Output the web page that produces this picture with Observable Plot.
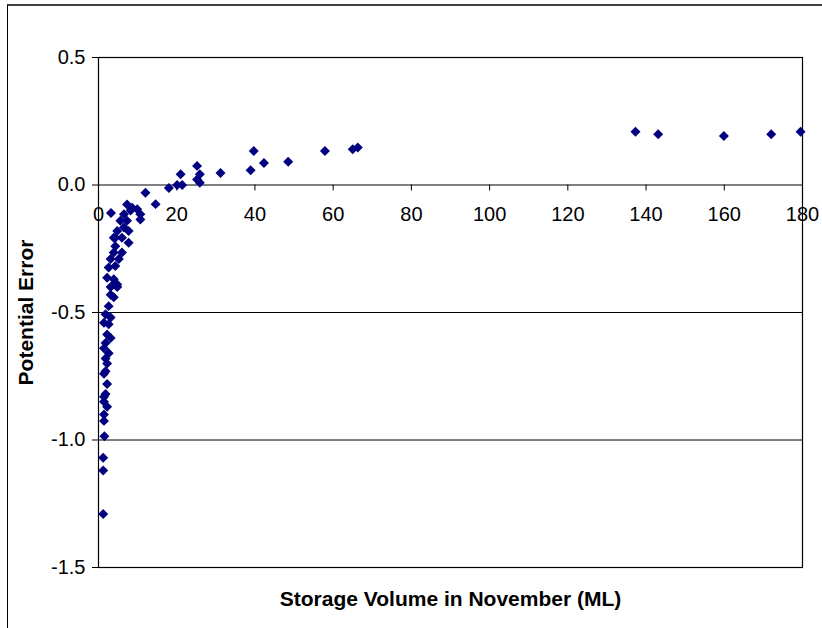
<!DOCTYPE html>
<html>
<head>
<meta charset="utf-8">
<script src="https://cdn.jsdelivr.net/npm/d3@7"></script>
<script src="https://cdn.jsdelivr.net/npm/@observablehq/plot@0.6"></script>
<style>
  html, body { margin: 0; padding: 0; background: #fff; overflow: hidden; }
  #frame { position: absolute; left: 7px; top: 4px; width: 900px; height: 700px;
           border-top: 2px solid #404040; border-left: 1.5px solid #000; }
  #chart { position: absolute; left: 0; top: 0; }
</style>
</head>
<body>
<div id="frame"></div>
<div id="chart"></div>
<script>
// Storage volume in November (ML)
const storageVolume = [
  1.2, 1.2, 1.2, 1.5, 1.4, 1.4, 2.2, 1.4, 1.8,
  1.4, 2.2, 1.4, 1.8, 2.2, 1.8, 2.6, 1.4, 1.8, 3.1, 2.2, 2.6, 1.4, 3.1, 1.8, 2.6, 3.9, 3.1, 4.8, 3.9,
  3.1, 2.2, 3.9, 4.8, 4.3, 2.6, 3.1, 5.2, 4.3, 3.9, 6.0, 3.9, 4.3, 7.7, 6.0, 4.8, 7.7, 6.5, 5.6, 7.3,
  6.5, 8.2, 10.7, 10.7, 9.9, 8.6, 7.3, 3.2,
  12.0, 14.6, 18.0, 20.1, 21.0, 21.4, 25.2, 25.9, 25.2, 25.9, 31.2, 38.9, 39.7, 42.3, 48.5, 57.9,
  65.0, 66.3, 137.3, 143.1, 159.9, 172.0, 179.5
];
// Potential error
const potentialError = [
  -1.29, -1.12, -1.07, -0.985, -0.925, -0.90, -0.87, -0.85, -0.82,
  -0.83, -0.78, -0.74, -0.73, -0.70, -0.68, -0.66, -0.64, -0.62, -0.60, -0.586, -0.546, -0.54, -0.52, -0.507, -0.475, -0.44, -0.43, -0.40, -0.39,
  -0.40, -0.364, -0.37, -0.39, -0.318, -0.324, -0.29, -0.29, -0.24, -0.265, -0.265, -0.207, -0.207, -0.226, -0.207, -0.18, -0.18, -0.167, -0.14, -0.14,
  -0.115, -0.10, -0.115, -0.135, -0.095, -0.089, -0.076, -0.11,
  -0.03, -0.075, -0.012, 0.0, 0.042, 0.0, 0.075, 0.042, 0.022, 0.009, 0.047, 0.058, 0.133, 0.086, 0.091, 0.133,
  0.14, 0.147, 0.209, 0.199, 0.192, 0.199, 0.209
];
const xTicks = [0, 20, 40, 60, 80, 100, 120, 140, 160, 180];
const yTicks = [-1.5, -1.0, -0.5, 0.0, 0.5];
const yGrid = [-1.0, -0.5];
const xTitle = "Storage Volume in November (ML)";
const yTitle = "Potential Error";

const data = storageVolume.map((v, i) => ({x: v, y: potentialError[i]}));

const chart = Plot.plot({
  width: 822,
  height: 628,
  marginLeft: 98,
  marginRight: 20,
  marginTop: 57,
  marginBottom: 61,
  style: {fontFamily: "'Liberation Sans', Arial, sans-serif", background: "transparent", overflow: "visible"},
  x: {domain: [0, 180], axis: null},
  y: {domain: [-1.5, 0.5], axis: null},
  marks: [
    Plot.ruleY(yGrid, {stroke: "#000", strokeWidth: 1}),
    Plot.frame({stroke: "#000", strokeWidth: 1.2}),
    Plot.axisY({ticks: yTicks, tickSize: 6, tickPadding: 7, tickFormat: d => d.toFixed(1),
                fontSize: 20, label: null, stroke: "#000"}),
    Plot.ruleY([0], {stroke: "#000", strokeWidth: 1}),
    Plot.ruleX(xTicks, {x: d => d, y1: 0, y2: 0, insetTop: 6, stroke: "#000"}),
    Plot.text(xTicks, {x: d => d, y: 0, text: d => String(d), dy: 30, fontSize: 20, fill: "#000"}),
    Plot.dot(data, {x: "x", y: "y", symbol: "diamond2", r: 4.5, fill: "#000080", stroke: "none"}),
    Plot.text([xTitle], {frameAnchor: "bottom", dy: 38, text: d => d, fontSize: 21, fontWeight: "bold", fill: "#000"}),
    Plot.text([yTitle], {frameAnchor: "left", dx: -72, rotate: -90, textAnchor: "middle", text: d => d, fontSize: 21, fontWeight: "bold", fill: "#000"})
  ]
});
document.getElementById("chart").appendChild(chart);
</script>
</body>
</html>
